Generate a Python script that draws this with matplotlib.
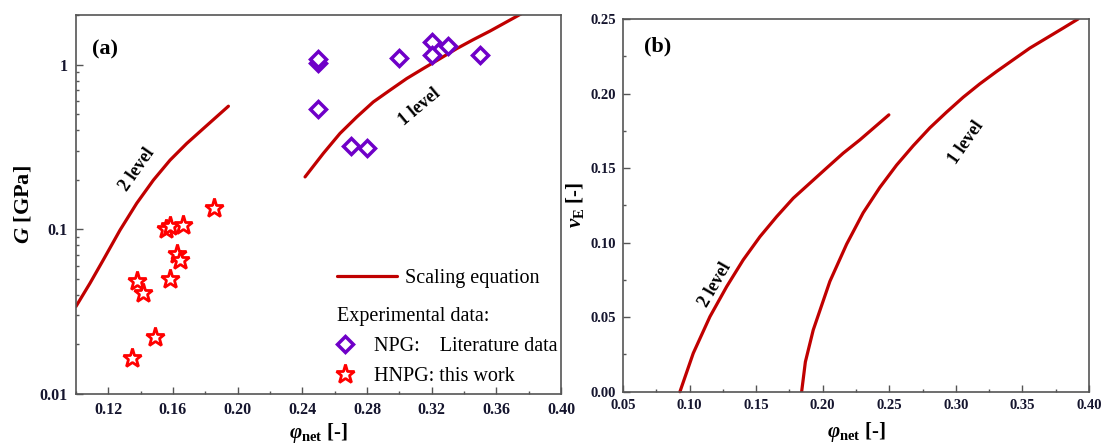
import matplotlib
matplotlib.use("Agg")
import matplotlib.pyplot as plt
from matplotlib.ticker import LogLocator, MultipleLocator, FixedLocator, NullFormatter, FormatStrFormatter

plt.rcParams['font.family'] = ['Liberation Serif', 'DejaVu Serif']
plt.rcParams['mathtext.fontset'] = 'custom'
plt.rcParams['mathtext.rm'] = 'Liberation Serif:bold'
plt.rcParams['mathtext.it'] = 'Liberation Serif:italic:bold'
plt.rcParams['mathtext.bf'] = 'Liberation Serif:bold'

# ---- panel (a): shear modulus vs. network solid fraction ----
npg_phi = [0.25, 0.25, 0.25, 0.27, 0.28, 0.30, 0.32, 0.32, 0.33, 0.35]
npg_G = [1.02, 1.08, 0.54, 0.32, 0.31, 1.10, 1.37, 1.15, 1.30, 1.15]

hnpg_phi = [0.1349, 0.1376, 0.1417, 0.1490, 0.1555, 0.1580, 0.1582, 0.1623, 0.1644, 0.1662, 0.1856]
hnpg_G = [0.0165, 0.0488, 0.0410, 0.0223, 0.1000, 0.1040, 0.0500, 0.0705, 0.0650, 0.1060, 0.1350]

scal2_phi = [0.1000, 0.1087, 0.1169, 0.1273, 0.1376, 0.1479, 0.1582, 0.1685, 0.1788, 0.1943]
scal2_G = [0.0340, 0.0471, 0.0652, 0.0991, 0.144, 0.199, 0.263, 0.332, 0.409, 0.559]

scal1_phi = [0.2417, 0.2530, 0.2633, 0.2737, 0.2839, 0.2942, 0.3046, 0.3148,
             0.3252, 0.3355, 0.3458, 0.3561, 0.3726, 0.3760]
scal1_G = [0.208, 0.289, 0.382, 0.481, 0.593, 0.699, 0.823, 0.946,
           1.087, 1.25, 1.418, 1.598, 1.963, 2.05]

# ---- panel (b): Poisson ratio vs. network solid fraction ----
nu2_phi = [0.0928, 0.1028, 0.1153, 0.1279, 0.1403, 0.1529, 0.1654, 0.1779,
           0.1904, 0.2029, 0.2154, 0.2279, 0.2497]
nu2_val = [0.0, 0.0258, 0.0503, 0.0705, 0.0884, 0.1040, 0.1174, 0.1298,
           0.1399, 0.1500, 0.1600, 0.1689, 0.1857]

nu1_phi = [0.1842, 0.1870, 0.1929, 0.2054, 0.2180, 0.2304, 0.2429, 0.2555, 0.2680,
           0.2805, 0.2930, 0.3055, 0.3180, 0.3306, 0.3430, 0.3556, 0.3681, 0.3806, 0.3918]
nu1_val = [0.0, 0.0200, 0.0414, 0.0740, 0.0990, 0.1200, 0.1370, 0.1520, 0.1650,
           0.1770, 0.1875, 0.1975, 0.2065, 0.2148, 0.2226, 0.2305, 0.2372, 0.2439, 0.2500]

x_ticks_a = [0.12, 0.16, 0.20, 0.24, 0.28, 0.32, 0.36, 0.40]
y_ticks_a = [0.01, 0.1, 1]
y_ticklabels_a = ['0.01', '0.1', '1']

CURVE = '#c00000'
PURPLE = '#6f00c8'
STAR = '#ff0000'
SPINE = '#555555'
TICKC = '#15152e'

fig = plt.figure(figsize=(11.01, 4.43), dpi=100)
axa = fig.add_axes([0.0690, 0.1106, 0.4405, 0.8555])
axb = fig.add_axes([0.5658, 0.1158, 0.4233, 0.8413])

for ax in (axa, axb):
    for s in ax.spines.values():
        s.set_color(SPINE)
        s.set_linewidth(1.2)
    ax.tick_params(which='both', direction='in', top=False, right=False,
                   color=SPINE, width=1.0, labelcolor=TICKC, labelsize=11.5)
    ax.tick_params(which='major', length=4.8, pad=6)
    ax.tick_params(which='minor', length=2.4)

# panel (a)
axa.set_yscale('log')
axa.set_xlim(0.10, 0.40)
axa.set_ylim(0.01, 2.0)
axa.plot(scal2_phi, scal2_G, color=CURVE, lw=2.3, solid_capstyle='round')
line_s, = axa.plot(scal1_phi, scal1_G, color=CURVE, lw=2.3, solid_capstyle='round')
dia, = axa.plot(npg_phi, npg_G, ls='none', marker='D', ms=8.6, mfc='white',
                mec=PURPLE, mew=2.5)
star, = axa.plot(hnpg_phi, hnpg_G, ls='none', marker='*', ms=14, mfc='white',
                 mec=STAR, mew=2.0)
axa.xaxis.set_major_locator(FixedLocator(x_ticks_a))
axa.xaxis.set_minor_locator(MultipleLocator(0.02))
axa.xaxis.set_major_formatter(FormatStrFormatter('%.2f'))
axa.yaxis.set_major_locator(FixedLocator(y_ticks_a))
axa.set_yticklabels(y_ticklabels_a)
axa.yaxis.set_minor_locator(LogLocator(base=10, subs=range(2, 10)))
axa.yaxis.set_minor_formatter(NullFormatter())
for lab in axa.get_xticklabels() + axa.get_yticklabels():
    lab.set_fontweight('bold')
axa.set_ylabel(r'$G$ [GPa]', fontsize=16, fontweight='bold', labelpad=4)
axa.set_xlabel(r'$\varphi_{\mathbf{net}}$ [-]', fontsize=15, fontweight='bold', labelpad=2)
axa.text(0.06, 0.91, '(a)', transform=axa.transAxes, fontsize=16, fontweight='bold',
         ha='center', va='center')
axa.text(0.1376, 0.229, '2 level', fontsize=13, fontweight='bold', rotation=55,
         ha='center', va='center')
axa.text(0.3128, 0.553, '1 level', fontsize=13, fontweight='bold', rotation=40,
         ha='center', va='center')

leg1 = axa.legend([line_s], ['Scaling equation'], loc='center left',
                  bbox_to_anchor=(0.5375, 0.305), frameon=False, fontsize=14.5,
                  handlelength=3.0, handletextpad=0.4, borderpad=0, borderaxespad=0)
axa.add_artist(leg1)
leg2 = axa.legend([dia, star], ['NPG:    Literature data', 'HNPG: this work'],
                  title='Experimental data:', title_fontsize=14.5, alignment='left',
                  loc='lower left', bbox_to_anchor=(0.5375, 0.02), frameon=False,
                  fontsize=14.5, handlelength=0.85, handletextpad=1.0, labelspacing=0.55,
                  borderpad=0, borderaxespad=0)
leg2._legend_box.sep = 8

# panel (b)
axb.set_xlim(0.05, 0.40)
axb.set_ylim(0.0, 0.25)
axb.plot(nu2_phi, nu2_val, color=CURVE, lw=2.3, solid_capstyle='round', clip_on=False)
axb.plot(nu1_phi, nu1_val, color=CURVE, lw=2.3, solid_capstyle='round')
axb.xaxis.set_major_locator(MultipleLocator(0.05))
axb.xaxis.set_minor_locator(MultipleLocator(0.025))
axb.yaxis.set_major_locator(MultipleLocator(0.05))
axb.yaxis.set_minor_locator(MultipleLocator(0.025))
axb.xaxis.set_major_formatter(FormatStrFormatter('%.2f'))
axb.yaxis.set_major_formatter(FormatStrFormatter('%.2f'))
axb.tick_params(which='major', labelsize=10.5, pad=5)
for lab in axb.get_xticklabels() + axb.get_yticklabels():
    lab.set_fontweight('bold')
axb.set_ylabel(r'$v_{\mathbf{E}}$ [-]', fontsize=15, fontweight='bold', labelpad=3)
axb.set_xlabel(r'$\varphi_{\mathbf{net}}$ [-]', fontsize=15, fontweight='bold', labelpad=6)
axb.text(0.075, 0.925, '(b)', transform=axb.transAxes, fontsize=16, fontweight='bold',
         ha='center', va='center')
axb.text(0.119, 0.0716, '2 level', fontsize=13, fontweight='bold', rotation=60,
         ha='center', va='center')
axb.text(0.308, 0.167, '1 level', fontsize=13, fontweight='bold', rotation=55,
         ha='center', va='center')

fig.savefig('out.png', dpi=100)
